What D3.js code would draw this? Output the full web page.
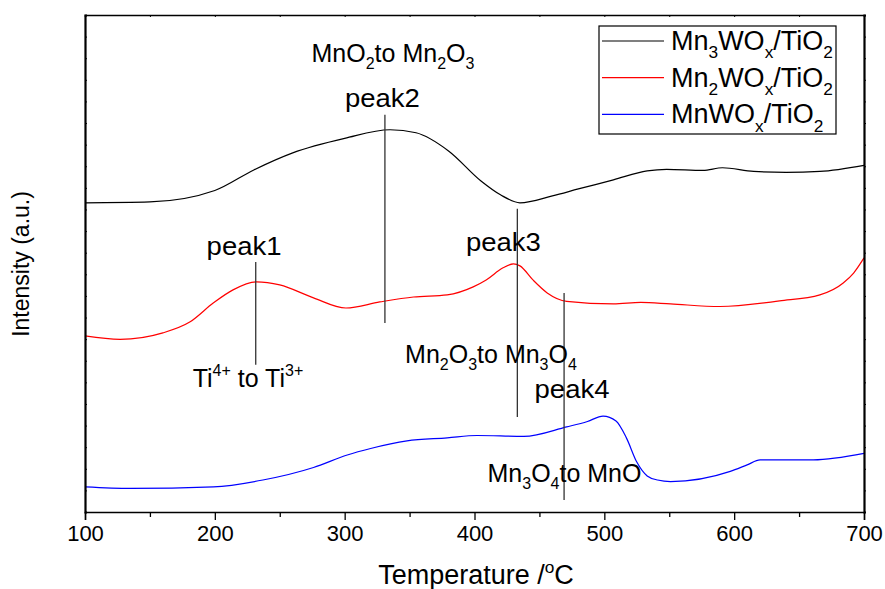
<!DOCTYPE html>
<html>
<head>
<meta charset="utf-8">
<script src="https://cdn.jsdelivr.net/npm/d3@7"></script>
<style>
  body { margin: 0; background: #fff; }
  svg { font-family: "Liberation Sans", Arial, sans-serif; }
</style>
</head>
<body>
<div id="chart"></div>
<script>
// H2-TPR traces, intensity in arbitrary units
var mn3T = [100, 150, 200, 230, 260, 300, 335, 355, 380, 405, 420, 435, 460, 480, 507, 533, 548, 576, 591, 615, 640, 666, 700];
var mn3I = [14.31, 14.35, 14.88, 15.83, 16.62, 17.29, 17.69, 17.55, 16.71, 15.32, 14.68, 14.31, 14.63, 14.95, 15.37, 15.79, 15.86, 15.81, 15.93, 15.76, 15.72, 15.76, 16.04];

var mn2T = [100, 127, 160, 181, 199, 214, 232, 250, 276, 301, 327, 353, 379, 399, 409, 422, 430, 435, 445, 456, 471, 507, 528, 551, 589, 635, 666, 684, 692, 700];
var mn2I = [8.15, 7.99, 8.29, 8.80, 9.68, 10.28, 10.65, 10.51, 9.91, 9.44, 9.72, 9.95, 10.05, 10.42, 10.74, 11.30, 11.48, 11.39, 10.74, 10.14, 9.75, 9.63, 9.70, 9.63, 9.51, 9.77, 10.05, 10.60, 11.06, 11.76];

var mn1T = [100, 135, 199, 237, 276, 302, 320, 348, 379, 402, 438, 471, 487, 499, 509, 517, 525, 533, 541, 551, 597, 610, 620, 661, 700];
var mn1I = [1.16, 1.09, 1.16, 1.48, 2.06, 2.64, 2.94, 3.29, 3.43, 3.54, 3.50, 3.94, 4.19, 4.44, 4.21, 3.43, 2.31, 1.67, 1.48, 1.41, 1.88, 2.18, 2.41, 2.41, 2.71];

var xTicks = [100, 200, 300, 400, 500, 600, 700];

// peak markers: temperature, top and bottom of the line
var peakT = [231.5, 331, 433, 469];
var peakTop = [11.57, 18.38, 14.03, 10.14];
var peakBottom = [6.81, 8.75, 4.40, 0.56];

// labels: [temperature, intensity, pieces]
var notes = [
  [222.5, 11.90, [["peak1"]]],
  [225.5, 5.80, [["Ti"], ["4+", "sup"], [" to Ti"], ["3+", "sup"]]],
  [329.1, 18.75, [["peak2"]]],
  [337.2, 20.83, [["MnO"], ["2", "sub"], ["to Mn"], ["2", "sub"], ["O"], ["3", "sub"]]],
  [422.3, 12.10, [["peak3"]]],
  [412.7, 6.90, [["Mn"], ["2", "sub"], ["O"], ["3", "sub"], ["to Mn"], ["3", "sub"], ["O"], ["4", "sub"]]],
  [475.1, 5.28, [["peak4"]]],
  [469.3, 1.39, [["Mn"], ["3", "sub"], ["O"], ["4", "sub"], ["to MnO"]]]
];

var seriesNames = [
  [["Mn"], ["3", "sub"], ["WO"], ["x", "sub"], ["/TiO"], ["2", "sub"]],
  [["Mn"], ["2", "sub"], ["WO"], ["x", "sub"], ["/TiO"], ["2", "sub"]],
  [["MnWO"], ["x", "sub"], ["/TiO"], ["2", "sub"]]
];
var colors = ["#000000", "#ff0000", "#0000ff"];

var W = 885, H = 589;
var padL = 85, padR = 864, padT = 15, padB = 512;

var svg = d3.select("#chart").append("svg")
    .attr("width", W)
    .attr("height", H);

var x = d3.scaleLinear().domain([100, 700]).range([padL, padR]);
var y = d3.scaleLinear().domain([0, 23]).range([padB, padT]);

// text with sub/superscripts, shifted with dy
function richText(sel, parts, size) {
    var cur = 0;
    parts.forEach(function (p) {
        var shift = 0;
        if (p[1] == "sub") shift = size * 0.3;
        if (p[1] == "sup") shift = -size * 0.42;
        var t = sel.append("tspan").text(p[0]).attr("dy", shift - cur);
        if (p[1]) t.attr("font-size", size * 0.64);
        cur = shift;
    });
}

// traces
var line = d3.line()
    .x(d => x(d[0]))
    .y(d => y(d[1]))
    .curve(d3.curveMonotoneX);

var traces = [d3.zip(mn3T, mn3I), d3.zip(mn2T, mn2I), d3.zip(mn1T, mn1I)];
svg.selectAll("path.trace")
    .data(traces)
    .join("path")
    .attr("class", "trace")
    .attr("fill", "none")
    .attr("stroke", (d, i) => colors[i])
    .attr("stroke-width", 1.2)
    .attr("d", line);

// peak lines
svg.selectAll("line.peak")
    .data(peakT)
    .join("line")
    .attr("class", "peak")
    .attr("x1", d => x(d))
    .attr("x2", d => x(d))
    .attr("y1", (d, i) => y(peakTop[i]))
    .attr("y2", (d, i) => y(peakBottom[i]))
    .attr("stroke", "#333")
    .attr("stroke-width", 1.3);

notes.forEach(function (n) {
    // the plain "peak" labels are a bit wider in the original
    var sx = n[2].length == 1 ? 1.1 : 1;
    var t = svg.append("text")
        .attr("transform", "translate(" + x(n[0]) + "," + y(n[1]) + ") scale(" + sx + ",1)")
        .attr("text-anchor", "middle")
        .attr("font-size", 25)
        .attr("fill", "#000");
    richText(t, n[2], 25);
});

// axes
var xAxis = d3.axisBottom(x).tickValues(xTicks).tickSize(8).tickPadding(5).tickFormat(d3.format("d"));
var gx = svg.append("g").attr("transform", "translate(0," + padB + ")").call(xAxis);
gx.selectAll("text").attr("font-size", 22).attr("fill", "#000");
gx.select(".domain").attr("stroke-width", 1.5);
gx.selectAll(".tick line").attr("stroke-width", 1.3);

var gxm = svg.append("g").attr("transform", "translate(0," + padB + ")")
    .call(d3.axisBottom(x).tickValues([150, 250, 350, 450, 550, 650]).tickSize(5).tickFormat(""));
gxm.select(".domain").remove();
gxm.selectAll(".tick line").attr("stroke-width", 1.3);

var gt = svg.append("g").attr("transform", "translate(0," + padT + ")")
    .call(d3.axisBottom(x).ticks(12).tickSize(2).tickFormat(""));
gt.select(".domain").attr("stroke-width", 1.5);

var gl = svg.append("g").attr("transform", "translate(" + padL + ",0)")
    .call(d3.axisRight(y).ticks(23).tickSize(2).tickFormat(""));
gl.select(".domain").attr("stroke-width", 2.2);

var gr = svg.append("g").attr("transform", "translate(" + padR + ",0)")
    .call(d3.axisRight(y).ticks(23).tickSize(2).tickFormat(""));
gr.select(".domain").attr("stroke-width", 2.2);

svg.selectAll(".domain").attr("stroke", "#000");

// axis titles
var xt = svg.append("text")
    .attr("x", 476)
    .attr("y", 584)
    .attr("text-anchor", "middle")
    .attr("font-size", 27);
richText(xt, [["Temperature /"], ["o", "sup"], ["C"]], 27);

svg.append("text")
    .attr("transform", "translate(29,264) rotate(-90)")
    .attr("text-anchor", "middle")
    .attr("font-size", 23)
    .text("Intensity (a.u.)");

// legend
var lg = svg.append("g").attr("transform", "translate(599,26)");
lg.append("rect")
    .attr("width", 237)
    .attr("height", 108)
    .attr("fill", "#fff")
    .attr("stroke", "#000")
    .attr("stroke-width", 1.2);

seriesNames.forEach(function (s, i) {
    var yy = 15 + i * 36.7;
    lg.append("line")
        .attr("x1", 3).attr("x2", 65)
        .attr("y1", yy).attr("y2", yy)
        .attr("stroke", colors[i])
        .attr("stroke-width", 1.2);
    var t = lg.append("text")
        .attr("x", 72)
        .attr("y", yy + 9)
        .attr("font-size", 27);
    richText(t, s, 27);
});
</script>
</body>
</html>
